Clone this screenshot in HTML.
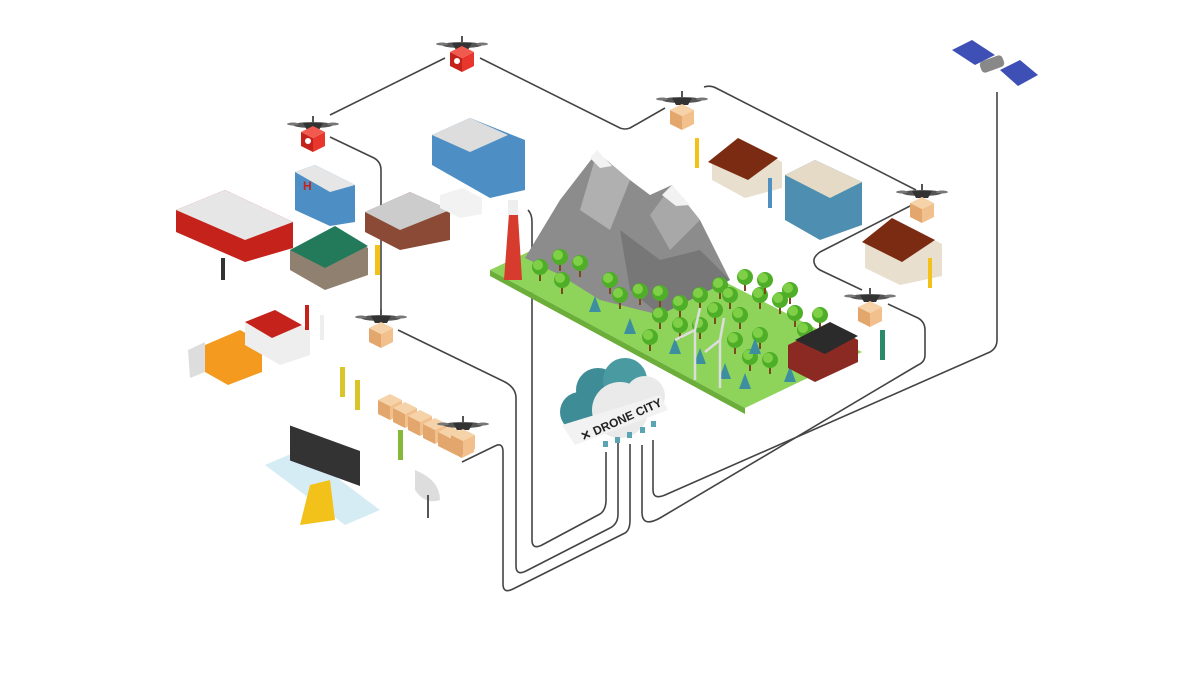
<!DOCTYPE html>
<html><head><meta charset="utf-8"><style>
html,body{margin:0;padding:0;background:#fff;width:1200px;height:675px;overflow:hidden}
svg{display:block}
</style></head><body>
<svg width="1200" height="675" viewBox="0 0 1200 675" xmlns="http://www.w3.org/2000/svg" font-family="Liberation Sans, sans-serif">
<defs>
<g id="drone">
<ellipse cx="0" cy="0" rx="20" ry="3" fill="#555"/>
<path d="M-10 -2 L10 -2 L6 5 L-6 5Z" fill="#333"/>
<ellipse cx="-20" cy="-1" rx="6" ry="1.5" fill="#777"/>
<ellipse cx="20" cy="-1" rx="6" ry="1.5" fill="#777"/>
<rect x="-1" y="-9" width="2" height="7" fill="#555"/>
</g>
<g id="box">
<path d="M-12 0 L0 6 L0 20 L-12 14Z" fill="#e3a66d"/>
<path d="M0 6 L12 0 L12 14 L0 20Z" fill="#f2c08c"/>
<path d="M-12 0 L0 -6 L12 0 L0 6Z" fill="#f6d2a8"/>
</g>
<g id="medbox">
<path d="M-12 0 L0 6 L0 20 L-12 14Z" fill="#c4221b"/>
<path d="M0 6 L12 0 L12 14 L0 20Z" fill="#e8362c"/>
<path d="M-12 0 L0 -6 L12 0 L0 6Z" fill="#f05a4f"/>
<circle cx="-5" cy="9" r="3" fill="#fff"/>
</g>
<g id="tree"><rect x="-1" y="0" width="2" height="9" fill="#7a4a1e"/><circle cx="0" cy="-5" r="8" fill="#4fae28"/><circle cx="-2" cy="-7" r="5" fill="#7fd047"/></g>
<g id="pine"><path d="M0 -12 L6 4 L-6 4Z" fill="#3d8fa0"/></g>
</defs>

<g fill="none" stroke="#444" stroke-width="1.6" stroke-linejoin="round">
<path d="M330 115 L445 58"/>
<path d="M480 58 L620 128 Q625 130 630 128 L665 108"/>
<path d="M704 87 Q710 85 716 88 L916 190"/>
<path d="M910 206 L820 252 Q813 257 814 262 Q815 268 822 271 L862 290"/>
<path d="M330 137 L374 158 Q381 162 381 170 L381 310"/>
<path d="M398 330 L505 382 Q516 388 516 398 L516 566 Q516 576 526 571 L610 528 Q618 524 618 514 L618 442"/>
<path d="M462 462 L495 446 Q503 442 503 452 L503 584 Q503 594 513 589 L625 533 Q630 530 630 520 L630 444"/>
<path d="M528 210 Q532 214 532 222 L532 540 Q532 550 542 545 L600 514 Q606 510 606 500 L606 452"/>
<path d="M888 304 L918 318 Q925 322 925 330 L925 355 Q925 362 918 365 L660 518 Q642 528 642 512 L642 445"/>
<path d="M997 92 L997 340 Q997 348 990 352 L665 495 Q653 500 653 490 L653 440"/>
</g>

<path d="M490 270 L600 218 L862 352 L745 408Z" fill="#8ed45a"/>
<path d="M490 270 L745 408 L745 414 L490 276Z" fill="#6cae3a"/>
<path d="M525 258 L560 200 L597 152 L630 180 L650 195 L672 185 L700 220 L730 280 L660 315 L600 300 L560 275Z" fill="#8c8c8c"/>
<path d="M597 152 L630 180 L610 230 L580 210Z" fill="#b0b0b0"/>
<path d="M672 185 L700 220 L670 250 L650 215Z" fill="#a8a8a8"/>
<path d="M590 158 L597 150 L612 166 L600 168Z" fill="#f2f2f2"/>
<path d="M662 195 L672 185 L690 205 L676 206Z" fill="#f2f2f2"/>
<path d="M620 230 L660 260 L700 250 L730 280 L660 315 L630 290Z" fill="#777"/>
<g>
<use href="#tree" x="540" y="272"/><use href="#tree" x="560" y="262"/><use href="#tree" x="580" y="268"/><use href="#tree" x="562" y="285"/>
<use href="#tree" x="620" y="300"/><use href="#tree" x="640" y="296"/><use href="#tree" x="660" y="320"/><use href="#tree" x="680" y="308"/>
<use href="#tree" x="700" y="300"/><use href="#tree" x="720" y="290"/><use href="#tree" x="745" y="282"/><use href="#tree" x="760" y="300"/>
<use href="#tree" x="780" y="305"/><use href="#tree" x="795" y="318"/><use href="#tree" x="740" y="320"/><use href="#tree" x="760" y="340"/>
<use href="#tree" x="700" y="330"/><use href="#tree" x="820" y="320"/><use href="#tree" x="650" y="342"/><use href="#tree" x="770" y="365"/>
<use href="#tree" x="730" y="300"/><use href="#tree" x="765" y="285"/><use href="#tree" x="790" y="295"/><use href="#tree" x="715" y="315"/>
<use href="#tree" x="680" y="330"/><use href="#tree" x="735" y="345"/><use href="#tree" x="805" y="335"/><use href="#tree" x="660" y="298"/>
<use href="#tree" x="610" y="285"/><use href="#tree" x="750" y="362"/>
<use href="#pine" x="595" y="308"/><use href="#pine" x="630" y="330"/><use href="#pine" x="755" y="350"/><use href="#pine" x="745" y="385"/>
<use href="#pine" x="790" y="378"/><use href="#pine" x="700" y="360"/><use href="#pine" x="675" y="350"/><use href="#pine" x="725" y="375"/>
</g>
<g stroke="#ddd" stroke-width="2.5"><line x1="695" y1="330" x2="695" y2="380"/><line x1="720" y1="340" x2="720" y2="388"/>
<line x1="695" y1="330" x2="675" y2="340"/><line x1="695" y1="330" x2="700" y2="308"/><line x1="720" y1="340" x2="705" y2="352"/><line x1="720" y1="340" x2="724" y2="318"/></g>
<path d="M788 345 L830 325 L858 340 L858 362 L815 382 L788 368Z" fill="#8b2a22"/>
<path d="M795 340 L830 322 L858 336 L825 354Z" fill="#2b2b2b"/>
<path d="M510 200 L517 200 L522 280 L504 280Z" fill="#d63b2e"/>
<rect x="508" y="200" width="10" height="15" fill="#eee"/>

<g>
<circle cx="598" cy="390" r="22" fill="#3e8c96"/>
<circle cx="580" cy="412" r="20" fill="#3e8c96"/>
<circle cx="625" cy="380" r="22" fill="#4a9aa2"/>
<circle cx="620" cy="410" r="28" fill="#eaeaea"/>
<circle cx="645" cy="396" r="20" fill="#eaeaea"/>
<path d="M562 425 L660 395 L668 410 L575 445Z" fill="#f2f2f2"/>
<text x="0" y="0" transform="translate(583,441) rotate(-24)" font-size="12" font-weight="bold" fill="#222">✕ DRONE CITY</text>
<g fill="#5aa4b3"><rect x="603" y="441" width="5" height="6"/><rect x="615" y="437" width="5" height="6"/><rect x="627" y="432" width="5" height="6"/><rect x="640" y="427" width="5" height="6"/><rect x="651" y="421" width="5" height="6"/></g>
</g>

<path d="M176 210 L225 190 L293 222 L293 248 L245 262 L176 232Z" fill="#c4221b"/>
<path d="M176 210 L225 190 L293 222 L245 240Z" fill="#e6e6e6"/>
<path d="M295 172 L315 165 L355 185 L355 222 L330 226 L295 210Z" fill="#4d8fc4"/>
<path d="M295 172 L315 165 L355 185 L330 192Z" fill="#e6e6e6"/>
<text x="303" y="190" font-size="12" font-weight="bold" fill="#c4221b">H</text>
<path d="M432 135 L470 118 L525 140 L525 190 L490 198 L432 165Z" fill="#4d8fc4"/>
<path d="M432 135 L470 118 L508 135 L470 152Z" fill="#ddd"/>
<path d="M365 212 L410 192 L450 210 L450 240 L400 250 L365 232Z" fill="#8b4a35"/>
<path d="M365 212 L410 192 L450 210 L400 230Z" fill="#ccc"/>
<path d="M440 195 L462 188 L482 198 L482 214 L460 218 L440 208Z" fill="#f2f2f2"/>
<path d="M290 250 L335 228 L368 248 L368 275 L325 290 L290 270Z" fill="#8f8070"/>
<path d="M290 250 L335 226 L368 246 L325 268Z" fill="#237a5a"/>
<path d="M712 160 L740 140 L782 162 L782 188 L745 198 L712 180Z" fill="#e8dfcf"/>
<path d="M708 162 L738 138 L778 158 L748 180Z" fill="#7b2b12"/>
<path d="M785 175 L815 160 L862 182 L862 225 L820 240 L785 220Z" fill="#4e8eb0"/>
<path d="M785 175 L815 160 L862 182 L830 198Z" fill="#e4dac6"/>
<path d="M865 240 L895 220 L942 244 L942 276 L900 285 L865 268Z" fill="#e8dfcf"/>
<path d="M862 242 L892 218 L935 240 L902 262Z" fill="#7b2b12"/>
<path d="M952 50 L972 40 L995 55 L975 65Z" fill="#3e4fb5"/>
<path d="M1000 70 L1020 60 L1038 75 L1018 86Z" fill="#3e4fb5"/>
<rect x="980" y="58" width="24" height="12" rx="4" fill="#888" transform="rotate(-20 992 64)"/>
<path d="M205 345 L240 330 L262 342 L262 372 L228 385 L205 372Z" fill="#f39a1f"/>
<path d="M188 350 L205 342 L205 372 L190 378Z" fill="#ddd"/>
<path d="M245 322 L275 310 L310 330 L310 355 L280 365 L245 345Z" fill="#eee"/>
<path d="M245 322 L275 310 L302 325 L272 338Z" fill="#c4221b"/>
<g><use href="#box" x="390" y="400"/><use href="#box" x="405" y="408"/><use href="#box" x="420" y="416"/><use href="#box" x="435" y="424"/><use href="#box" x="450" y="432"/><use href="#box" x="462" y="438"/></g>
<path d="M265 465 L300 450 L380 510 L345 525Z" fill="#d6ecf5"/>
<rect x="290" y="440" width="70" height="35" fill="#333" transform="skewY(20) translate(0,-120)"/>
<path d="M415 470 Q440 480 440 500 Q425 505 415 490Z" fill="#ddd"/>
<line x1="428" y1="495" x2="428" y2="518" stroke="#555" stroke-width="2"/>

<g fill="#333">
<rect x="221" y="258" width="4" height="22"/><rect x="340" y="367" width="5" height="30" fill="#d9c52a"/><rect x="355" y="380" width="5" height="30" fill="#d9c52a"/>
<rect x="398" y="430" width="5" height="30" fill="#86b83a"/><rect x="305" y="305" width="4" height="25" fill="#c4221b"/><rect x="320" y="315" width="4" height="25" fill="#eee"/>
<rect x="375" y="245" width="5" height="30" fill="#f2c21a"/><rect x="880" y="330" width="5" height="30" fill="#2a8b6b"/><rect x="928" y="258" width="4" height="30" fill="#f2c21a"/>
<rect x="695" y="138" width="4" height="30" fill="#f2c21a"/><rect x="768" y="178" width="4" height="30" fill="#4f90c0"/>
<path d="M310 485 L330 480 L335 520 L300 525Z" fill="#f2c21a"/>
</g>

<use href="#drone" x="313" y="125"/><use href="#medbox" x="313" y="132"/>
<use href="#drone" x="462" y="45"/><use href="#medbox" x="462" y="52"/>
<use href="#drone" x="682" y="100"/><use href="#box" x="682" y="110"/>
<use href="#drone" x="922" y="193"/><use href="#box" x="922" y="203"/>
<use href="#drone" x="870" y="297"/><use href="#box" x="870" y="307"/>
<use href="#drone" x="381" y="318"/><use href="#box" x="381" y="328"/>
<use href="#drone" x="463" y="425"/><use href="#box" x="463" y="435"/>
</svg>
</body></html>
